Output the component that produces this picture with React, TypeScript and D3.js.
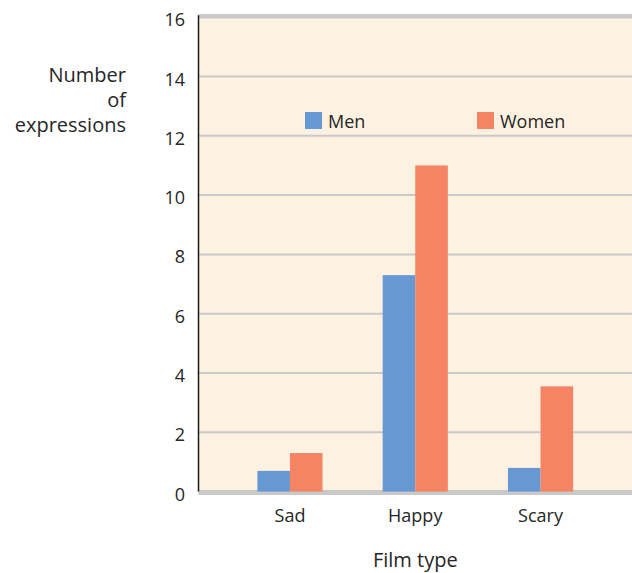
import React from "react";
import * as d3 from "d3";

const categories = ["Sad", "Happy", "Scary"];
const seriesNames = ["Men", "Women"];
const menValues = [0.7, 7.3, 0.8];
const womenValues = [1.3, 11.0, 3.55];
const yTicks = [0, 2, 4, 6, 8, 10, 12, 14, 16];

const W = 632;
const H = 573;
const left = 198.5;
const right = 632;
const top = 17.2;
const bottom = 491.6;
const colors = ["#6699d3", "#f48464"];
const textColor = "#262626";
const font = "'Open Sans', 'Noto Sans', sans-serif";

export default function App() {
  const y = d3.scaleLinear().domain([0, 16]).range([bottom, top]);
  const x = d3
    .scaleBand<string>()
    .domain(categories)
    .range([left, right])
    .paddingInner(0.48)
    .paddingOuter(0.47);
  const xs = d3.scaleBand<string>().domain(seriesNames).range([0, x.bandwidth()]).padding(0);
  const values = [menValues, womenValues];
  const mid = (c: string) => (x(c) ?? 0) + x.bandwidth() / 2;

  return (
    <svg
      width={W}
      height={H}
      style={{ position: "absolute", left: 0, top: 0, background: "#fff" }}
      fontFamily={font}
    >
      <rect x={left} y={top} width={right - left} height={bottom - top} fill="#fdf1e2" />
      {yTicks.map((t) => (
        <line
          key={"g" + t}
          x1={left}
          x2={right}
          y1={y(t)}
          y2={y(t)}
          stroke="#c9c9c9"
          strokeWidth={t === 16 ? 4.5 : t === 0 ? 5 : 2}
          transform={t === 16 ? "translate(0,-1)" : t === 0 ? "translate(0,1)" : undefined}
        />
      ))}
      {categories.map((c, i) =>
        seriesNames.map((s, j) => (
          <rect
            key={c + s}
            x={(x(c) ?? 0) + (xs(s) ?? 0)}
            y={y(values[j][i])}
            width={xs.bandwidth()}
            height={y(0) - y(values[j][i])}
            fill={colors[j]}
          />
        ))
      )}
      <line x1={left} x2={left} y1={top - 2} y2={bottom} stroke="#1a1a1a" strokeWidth={1.5} />
      {yTicks.map((t) => (
        <text
          key={"t" + t}
          x={185}
          y={y(t) + 9}
          textAnchor="end"
          fontSize={18}
          fill={textColor}
        >
          {t}
        </text>
      ))}
      {categories.map((c) => (
        <text key={"c" + c} x={mid(c)} y={521.5} textAnchor="middle" fontSize={18} fill={textColor}>
          {c}
        </text>
      ))}
      <text x={mid(categories[1])} y={567} textAnchor="middle" fontSize={20} fill={textColor}>
        Film type
      </text>
      <text textAnchor="end" fontSize={20} fill={textColor}>
        <tspan x={126} y={82}>Number</tspan>
        <tspan x={126} y={107}>of</tspan>
        <tspan x={126} y={132}>expressions</tspan>
      </text>
      {seriesNames.map((s, j) => {
        const lx = [305, 477][j];
        return (
          <g key={"l" + s}>
            <rect x={lx} y={112} width={17} height={17} fill={colors[j]} />
            <text x={lx + 23} y={128} fontSize={18} fill={textColor}>
              {s}
            </text>
          </g>
        );
      })}
    </svg>
  );
}
